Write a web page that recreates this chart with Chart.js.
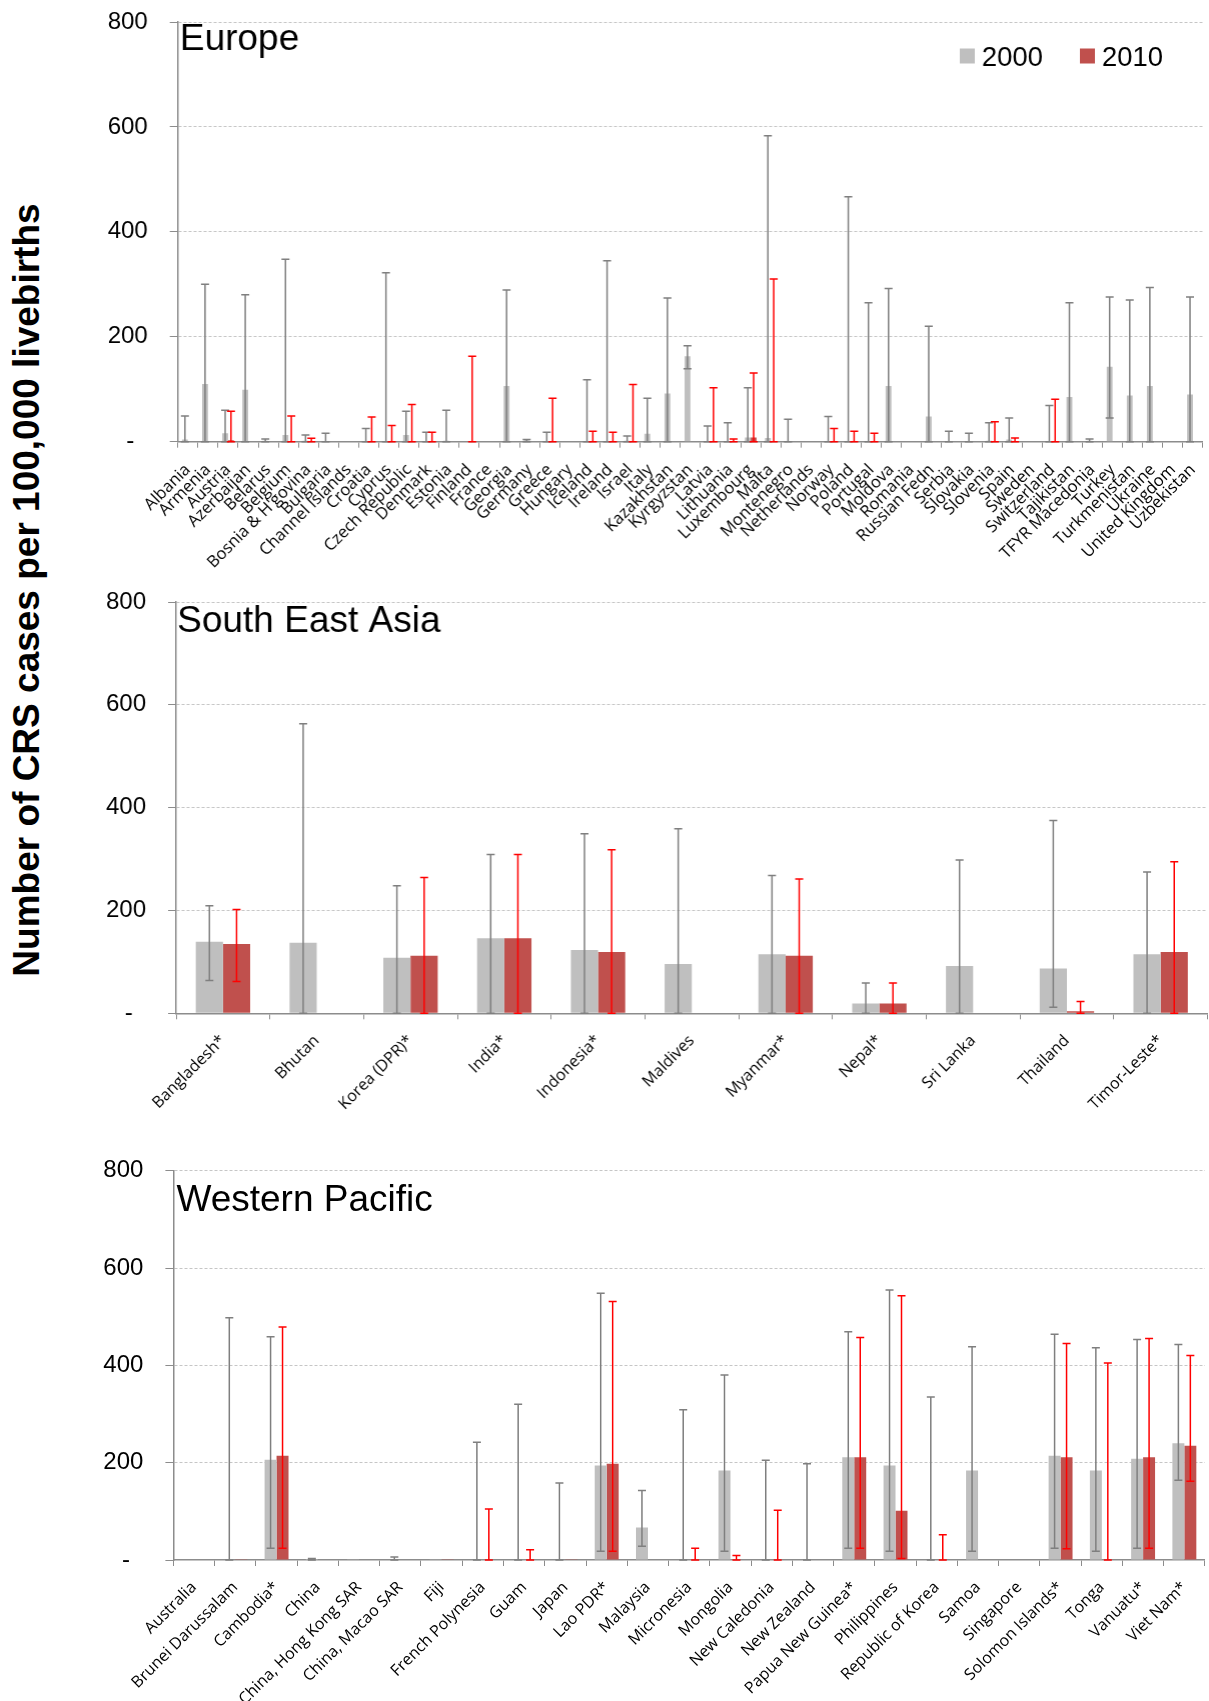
<!DOCTYPE html>
<html>
<head>
<meta charset="utf-8">
<script src="https://cdn.jsdelivr.net/npm/chart.js@4.4.0/dist/chart.umd.min.js"></script>
<style>
  html, body { margin: 0; padding: 0; background: #fff; }
  body { width: 1209px; height: 1701px; position: relative; overflow: hidden; }
  .panel { position: absolute; left: 60px; }
  #ytitle {
    position: absolute; left: -372px; top: 568px; width: 800px; height: 44px;
    line-height: 44px; text-align: center; white-space: nowrap;
    font: bold 37px "Liberation Sans", Arial, sans-serif; color: #000;
    transform: rotate(-90deg); transform-origin: 50% 50%;
  }
</style>
</head>
<body>
<div id="ytitle">Number of CRS cases per 100,000 livebirths</div>
<div class="panel" style="top:-15px;width:1158.5px;height:605px"><canvas id="euChart"></canvas></div>
<div class="panel" style="top:560px;width:1149.5px;height:580px"><canvas id="seaChart"></canvas></div>
<div class="panel" style="top:1130px;width:1150px;height:571px"><canvas id="wpChart"></canvas></div>
<script>
// ---- Europe ----
const euLabels = ['Albania', 'Armenia', 'Austria', 'Azerbaijan', 'Belarus', 'Belgium', "Bosnia & H'govina",
  'Bulgaria', 'Channel Islands', 'Croatia', 'Cyprus', 'Czech Republic', 'Denmark', 'Estonia', 'Finland',
  'France', 'Georgia', 'Germany', 'Greece', 'Hungary', 'Iceland', 'Ireland', 'Israel', 'Italy',
  'Kazakhstan', 'Kyrgyzstan', 'Latvia', 'Lithuania', 'Luxembourg', 'Malta', 'Montenegro', 'Netherlands',
  'Norway', 'Poland', 'Portugal', 'Moldova', 'Romania', 'Russian Fedn', 'Serbia', 'Slovakia', 'Slovenia',
  'Spain', 'Sweden', 'Switzerland', 'Tajikistan', 'TFYR Macedonia', 'Turkey', 'Turkmenistan', 'Ukraine',
  'United Kingdom', 'Uzbekistan'];
const eu2000 = [4, 110, 16, 99, 2, 13, 2, 1, 0, 0, 0, 13, 0, 2, 0, 0, 106, 3, 0, 1, 0, 0, 2, 15, 92, 163,
  0, 0, 8, 7, 0, 0, 0, 0, 0, 106, 0, 48, 0, 0, 2, 4, 0, 0, 85, 2, 143, 88, 106, 0, 90];
const euLo2000 = [0, 0, 0, 0, 0, 0, 0, 0, null, 0, 0, 0, 0, 0, null, null, 0, 0, 0, null, 0, 0, 0, 0, 0, 139,
  0, 0, 0, 0, 0, null, 0, 0, 0, 0, null, 0, 0, 0, 0, 0, null, 0, 0, 0, 45, 0, 0, null, 0];
const euHi2000 = [49, 300, 60, 280, 5, 348, 13, 16, null, 25, 322, 58, 18, 60, null, null, 289, 4, 18, null,
  118, 345, 11, 83, 274, 183, 30, 36, 103, 583, 43, null, 48, 467, 265, 292, null, 220, 20, 16, 36, 45, null,
  69, 265, 5, 276, 270, 294, null, 276];
const eu2010 = [0, 0, 3, 0, 0, 0, 0, 0, 0, 0, 0, 0, 0, 0, 0, 0, 0, 0, 0, 1, 0, 0, 0, 0, 0, 0,
  0, 0, 8, 0, 0, 0, 0, 0, 0, 0, 0, 0, 0, 0, 0, 0, 1, 0, 0, 0, 0, 0, 0, 0, 0];
const euLo2010 = [null, null, 0, null, null, 0, 0, null, null, 0, 0, 0, 0, null, 0, null, null, null, 0, null,
  0, 0, 0, null, null, null, 0, 0, 0, 0, null, null, 0, 0, 0, null, null, null, null, null, 0, 0, null,
  0, null, null, null, null, null, null, null];
const euHi2010 = [null, null, 58, null, null, 49, 6.5, null, null, 47, 31, 71, 18, null, 163, null, null, null,
  83, null, 20, 18, 109, null, null, null, 103, 5, 131, 310, null, null, 25, 20, 16, null, null, null, null,
  null, 38, 7, null, 81, null, null, null, null, null, null, null];

// ---- South East Asia ----
const seaLabels = ['Bangladesh*', 'Bhutan', 'Korea (DPR)*', 'India*', 'Indonesia*', 'Maldives', 'Myanmar*',
  'Nepal*', 'Sri Lanka', 'Thailand', 'Timor-Leste*'];
const sea2000 = [139, 137, 108, 146, 123, 96, 115, 19, 92, 87, 115];
const seaLo2000 = [64, 0, 0, 0, 0, 0, 0, 0, 0, 12, 0];
const seaHi2000 = [209, 563, 248, 309, 349, 359, 268, 59, 298, 375, 275];
const sea2010 = [135, 1, 112, 146, 119, 1, 112, 19, 1, 4, 119];
const seaLo2010 = [62, null, 0, 0, 0, null, 0, 0, null, 0, 0];
const seaHi2010 = [202, null, 264, 309, 318, null, 261, 59, null, 23, 295];

// ---- Western Pacific ----
const wpLabels = ['Australia', 'Brunei Darussalam', 'Cambodia*', 'China', 'China, Hong Kong SAR',
  'China, Macao SAR', 'Fiji', 'French Polynesia', 'Guam', 'Japan', 'Lao PDR*', 'Malaysia', 'Micronesia',
  'Mongolia', 'New Caledonia', 'New Zealand', 'Papua New Guinea*', 'Philippines', 'Republic of Korea',
  'Samoa', 'Singapore', 'Solomon Islands*', 'Tonga', 'Vanuatu*', 'Viet Nam*'];
const wp2000 = [0, 0, 206, 2, 0.5, 1, 0.5, 0, 0, 0, 194, 67, 0, 184, 0, 0, 211, 194, 0, 184, 0, 214, 184, 208, 240];
const wpLo2000 = [null, 0, 24, 0, null, 0, null, 0, 0, 0, 18, 28, 0, 18, 0, 0, 24, 18, 0, 18, null, 24, 18, 24, 164];
const wpHi2000 = [null, 498, 459, 3, null, 6, null, 242, 320, 158, 548, 143, 309, 380, 205, 198, 469, 555, 335,
  438, null, 464, 436, 453, 443];
const wp2010 = [0, 0.5, 214, 0, 0, 0, 0.5, 0, 0, 0.5, 198, 0, 0, 1, 0, 0, 211, 101, 0, 0, 0, 211, 0, 211, 235];
const wpLo2010 = [null, null, 24, null, null, null, null, 0, 0, null, 18, null, 0, 0, 0, null, 24, 3, 0, null,
  null, 23, 0, 24, 162];
const wpHi2010 = [null, null, 479, null, null, null, null, 105, 21, null, 531, null, 24, 9, 102, null, 457, 543,
  52, null, null, 445, 405, 455, 420];

const yTicks = [0, 200, 400, 600, 800];

const GREY = '#bfbfbf', RED = '#c0504d';
const GREY_ERR = '#7f7f7f', RED_ERR = '#ff0000';
const AXIS = '#8c8c8c';

Chart.defaults.font.family = '"Liberation Sans", Arial, sans-serif';
Chart.defaults.color = '#000';

// draws the confidence intervals on top of the bars
const errorBars = {
  id: 'errorBars',
  afterDatasetsDraw(chart) {
    const ctx = chart.ctx;
    const yScale = chart.scales.y;
    const cap = 4;
    chart.data.datasets.forEach((ds, i) => {
      const meta = chart.getDatasetMeta(i);
      ctx.save();
      ctx.strokeStyle = ds.errColor;
      ctx.lineWidth = 1.5;
      meta.data.forEach((bar, j) => {
        const hi = ds.errHi[j], lo = ds.errLo[j];
        if (hi == null) return;
        const x = bar.x;
        const yHi = yScale.getPixelForValue(hi);
        const yLo = yScale.getPixelForValue(lo);
        ctx.beginPath();
        ctx.moveTo(x, yLo); ctx.lineTo(x, yHi);
        ctx.moveTo(x - cap, yHi); ctx.lineTo(x + cap, yHi);
        ctx.moveTo(x - cap, yLo); ctx.lineTo(x + cap, yLo);
        ctx.stroke();
      });
      ctx.restore();
    });
  }
};

// region name in the corner + optional legend
const panelText = {
  id: 'panelText',
  afterDraw(chart, args, opts) {
    const { ctx, chartArea } = chart;
    ctx.save();
    ctx.fillStyle = '#000';
    ctx.textBaseline = 'alphabetic';
    ctx.font = '37px "Liberation Sans", Arial, sans-serif';
    ctx.fillText(opts.title, chartArea.left + opts.dx, chartArea.top + opts.dy);
    if (opts.legend) {
      let x = chartArea.right - 243;
      ctx.font = '27.5px "Liberation Sans", Arial, sans-serif';
      chart.data.datasets.forEach(ds => {
        ctx.fillStyle = ds.backgroundColor;
        ctx.fillRect(x, chartArea.top + 26.5, 15, 15);
        ctx.fillStyle = '#000';
        ctx.fillText(ds.label, x + 22, chartArea.top + 43.5);
        x += 120;
      });
    }
    ctx.restore();
  }
};

function makeChart(id, labels, d2000, lo2000, hi2000, d2010, lo2010, hi2010, opt) {
  return new Chart(document.getElementById(id), {
    type: 'bar',
    data: {
      labels: labels,
      datasets: [
        { label: '2000', data: d2000, backgroundColor: GREY, errLo: lo2000, errHi: hi2000, errColor: GREY_ERR },
        { label: '2010', data: d2010, backgroundColor: RED, errLo: lo2010, errHi: hi2010, errColor: RED_ERR }
      ]
    },
    options: {
      responsive: true,
      maintainAspectRatio: false,
      animation: false,
      devicePixelRatio: 1,
      layout: { padding: { top: opt.padTop, right: opt.padRight, bottom: 0, left: 0 } },
      datasets: { bar: { categoryPercentage: 0.58, barPercentage: 1.0, borderWidth: 0 } },
      plugins: {
        legend: { display: false },
        tooltip: { enabled: false },
        panelText: { title: opt.title, dx: opt.titleDx, dy: opt.titleDy, legend: opt.legend }
      },
      scales: {
        x: {
          offset: true,
          grid: { display: true, offset: true, drawOnChartArea: false, drawTicks: true,
                  tickLength: 6, tickColor: AXIS, color: AXIS },
          border: { display: true, color: AXIS, width: 1.5 },
          ticks: {
            autoSkip: false, maxRotation: 45, minRotation: 45, padding: opt.labelPad,
            color: '#000',
            font: { family: '"Open Sans", sans-serif', size: opt.labelSize }
          },
          afterFit(scale) { scale.height = opt.xHeight; }
        },
        y: {
          min: 0, max: 800,
          afterBuildTicks(scale) { scale.ticks = yTicks.map(v => ({ value: v })); },
          grid: {
            color: c => (c.tick && c.tick.value === 0) ? 'rgba(0,0,0,0)' : '#c6c6c6',
            tickColor: AXIS, tickLength: 8, tickBorderDash: [], lineWidth: 1
          },
          border: { display: true, color: AXIS, width: 1.5, dash: [3, 2] },
          ticks: {
            padding: 22, color: '#000',
            font: { size: 24 },
            callback: v => v === 0 ? '-\u2007' : String(v)
          },
          afterFit(scale) { scale.width = opt.yWidth; }
        }
      }
    },
    plugins: [errorBars, panelText]
  });
}

makeChart('euChart', euLabels, eu2000, euLo2000, euHi2000, eu2010, euLo2010, euHi2010, {
  padTop: 37, padRight: 6, yWidth: 117.7, xHeight: 148.3, labelPad: 12.5, labelSize: 16.5,
  title: 'Europe', titleDx: 2, titleDy: 27.5, legend: true
});
makeChart('seaChart', seaLabels, sea2000, seaLo2000, seaHi2000, sea2010, seaLo2010, seaHi2010, {
  padTop: 42, padRight: 3, yWidth: 116, xHeight: 126.7, labelPad: 12, labelSize: 16,
  title: 'South East Asia', titleDx: 1, titleDy: 30, legend: false
});
makeChart('wpChart', wpLabels, wp2000, wpLo2000, wpHi2000, wp2010, wpLo2010, wpHi2010, {
  padTop: 40.7, padRight: 3, yWidth: 113.4, xHeight: 141, labelPad: 12, labelSize: 16,
  title: 'Western Pacific', titleDx: 3, titleDy: 40, legend: false
});
</script>
</body>
</html>
